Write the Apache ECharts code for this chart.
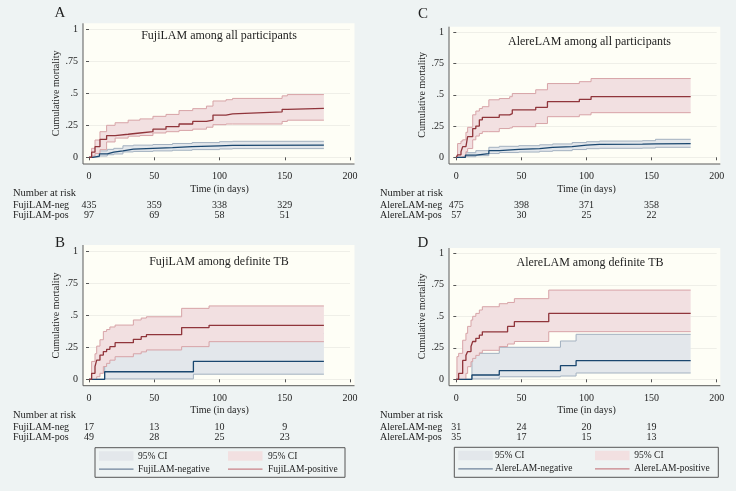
<!DOCTYPE html>
<html><head><meta charset="utf-8">
<script src="https://cdn.jsdelivr.net/npm/echarts@6/dist/echarts.min.js"></script>
<style>html,body{margin:0;padding:0;background:#eef3f3}#c{width:736px;height:491px}</style>
</head><body><div id="c"></div>
<script>
// ---------------- DATA ----------------
const xTicks = [0, 50, 100, 150, 200];
const yTickLabels = ['0', '.25', '.5', '.75', '1'];
const riskTimes = [0, 50, 100, 150];

const panelLetters = ['A', 'B', 'C', 'D'];
const panelTitles = ['FujiLAM among all participants', 'FujiLAM among definite TB',
                     'AlereLAM among all participants', 'AlereLAM among definite TB'];
const riskNegLabels = ['FujiLAM-neg', 'FujiLAM-neg', 'AlereLAM-neg', 'AlereLAM-neg'];
const riskPosLabels = ['FujiLAM-pos', 'FujiLAM-pos', 'AlereLAM-pos', 'AlereLAM-pos'];
const legendNegLabels = ['', 'FujiLAM-negative', '', 'AlereLAM-negative'];
const legendPosLabels = ['', 'FujiLAM-positive', '', 'AlereLAM-positive'];

// numbers at risk at 0, 50, 100, 150 days
const riskA_neg = [435, 359, 338, 329];
const riskA_pos = [97, 69, 58, 51];
const riskB_neg = [17, 13, 10, 9];
const riskB_pos = [49, 28, 25, 23];
const riskC_neg = [475, 398, 371, 358];
const riskC_pos = [57, 30, 25, 22];
const riskD_neg = [31, 24, 20, 19];
const riskD_pos = [35, 17, 15, 13];

// Panel A
const A_neg_t   = [0, 3, 8, 14, 19, 26, 34, 49, 64, 79, 100, 110, 180];
const A_neg_est = [0, 0.01, 0.026, 0.04, 0.05, 0.064, 0.07, 0.075, 0.083, 0.09, 0.093, 0.095, 0.095];
const A_neg_lo  = [0, 0.002, 0.01, 0.02, 0.026, 0.042, 0.046, 0.05, 0.055, 0.06, 0.065, 0.068, 0.068];
const A_neg_hi  = [0, 0.03, 0.05, 0.062, 0.07, 0.09, 0.095, 0.1, 0.108, 0.115, 0.122, 0.125, 0.125];
const A_pos_t   = [0, 2, 4.6, 8.4, 13.5, 20, 30, 39, 49, 59, 69, 79.5, 90, 95, 105, 110, 148, 152, 180];
const A_pos_est = [0, 0.04, 0.083, 0.14, 0.17, 0.18, 0.19, 0.2, 0.22, 0.24, 0.26, 0.28, 0.29, 0.33, 0.34, 0.355, 0.375, 0.383, 0.383];
const A_pos_lo  = [0, 0.01, 0.03, 0.06, 0.12, 0.15, 0.165, 0.17, 0.19, 0.2, 0.21, 0.22, 0.235, 0.255, 0.26, 0.26, 0.28, 0.29, 0.29];
const A_pos_hi  = [0, 0.07, 0.135, 0.2, 0.25, 0.27, 0.29, 0.3, 0.32, 0.335, 0.365, 0.38, 0.4, 0.44, 0.45, 0.46, 0.48, 0.49, 0.49];

// Panel B
const B_neg_t   = [0, 12, 80, 180];
const B_neg_est = [0, 0.059, 0.14, 0.14];
const B_neg_lo  = [0, 0.003, 0.04, 0.04];
const B_neg_hi  = [0, 0.27, 0.36, 0.36];
const B_pos_t   = [0, 2, 4.6, 5.9, 8.4, 11, 13.5, 16, 20, 34, 40, 44, 71, 92, 180];
const B_pos_est = [0, 0.047, 0.1, 0.15, 0.19, 0.217, 0.235, 0.256, 0.287, 0.313, 0.334, 0.35, 0.405, 0.423, 0.423];
const B_pos_lo  = [0, 0, 0, 0.02, 0.047, 0.1, 0.125, 0.15, 0.177, 0.2, 0.215, 0.23, 0.256, 0.295, 0.295];
const B_pos_hi  = [0, 0.14, 0.2, 0.26, 0.31, 0.375, 0.39, 0.41, 0.425, 0.465, 0.48, 0.49, 0.556, 0.575, 0.575];

// Panel C
const C_neg_t   = [0, 7, 15, 25, 33, 48, 64, 74, 89, 100, 110, 143, 153, 180];
const C_neg_est = [0, 0.018, 0.03, 0.053, 0.064, 0.069, 0.08, 0.085, 0.098, 0.104, 0.106, 0.107, 0.11, 0.11];
const C_neg_lo  = [0, 0.005, 0.013, 0.03, 0.038, 0.042, 0.048, 0.053, 0.062, 0.069, 0.072, 0.074, 0.08, 0.08];
const C_neg_hi  = [0, 0.037, 0.053, 0.08, 0.088, 0.093, 0.1, 0.107, 0.118, 0.125, 0.13, 0.133, 0.144, 0.144];
const C_pos_t   = [0, 1, 3.6, 4.9, 7.4, 8.7, 12.6, 15, 17.7, 20, 25, 33, 41, 43, 61, 70, 94.5, 103.5, 180];
const C_pos_est = [0, 0.02, 0.045, 0.085, 0.085, 0.165, 0.23, 0.25, 0.3, 0.32, 0.32, 0.34, 0.35, 0.38, 0.4, 0.445, 0.463, 0.485, 0.485];
const C_pos_lo  = [0, 0, 0, 0.005, 0.045, 0.07, 0.14, 0.17, 0.19, 0.205, 0.205, 0.23, 0.235, 0.245, 0.27, 0.325, 0.34, 0.357, 0.357];
const C_pos_hi  = [0, 0.11, 0.13, 0.14, 0.2, 0.24, 0.34, 0.37, 0.39, 0.405, 0.46, 0.47, 0.485, 0.51, 0.54, 0.59, 0.605, 0.63, 0.63];

// Panel D
const D_neg_t   = [0, 12, 33, 80, 92, 180];
const D_neg_est = [0, 0.034, 0.069, 0.108, 0.148, 0.148];
const D_neg_lo  = [0, 0.003, 0.02, 0.026, 0.05, 0.05];
const D_neg_hi  = [0, 0.206, 0.254, 0.304, 0.357, 0.357];
const D_pos_t   = [0, 0.5, 1.8, 4.9, 7.4, 8.7, 11.3, 12.6, 15, 17.7, 20, 33, 39.4, 44.6, 71, 180];
const D_pos_est = [0, 0, 0.047, 0.15, 0.19, 0.22, 0.26, 0.3, 0.325, 0.35, 0.377, 0.377, 0.42, 0.457, 0.523, 0.523];
const D_pos_lo  = [0, 0, 0, 0, 0.047, 0.1, 0.14, 0.166, 0.19, 0.21, 0.23, 0.26, 0.28, 0.3, 0.378, 0.378];
const D_pos_hi  = [0, 0.18, 0.206, 0.31, 0.365, 0.42, 0.47, 0.5, 0.523, 0.55, 0.576, 0.6, 0.61, 0.64, 0.708, 0.708];

// ---------------- LAYOUT / STYLE ----------------
const FONT = "'Liberation Serif','DejaVu Serif',serif";
const BG = '#eef3f3', PLOT_BG = '#fefef6';
const BLUE = '#1a476f', RED = '#90353b';
const BLUE_FILL = '#e3e7eb', RED_FILL = '#f2e0e1';
const BLUE_EDGE = '#a3b1c0', RED_EDGE = '#d7a3a7';
const TXT = '#1e1e1e';

const panels = [
  { grid: [89, 29.3, 261, 128], region: [83, 23.3, 271.5, 140.7], xOff: 6.7, yOff: 6, letter: [60, 13], title: [219, 36], riskX: 13, riskY: 193,
    curves: { neg: [A_neg_t, A_neg_est, A_neg_lo, A_neg_hi], pos: [A_pos_t, A_pos_est, A_pos_lo, A_pos_hi] }, risk: [riskA_neg, riskA_pos] },
  { grid: [89, 251.7, 261, 127.6], region: [83, 245, 271.5, 140.7], xOff: 6.4, yOff: 6, letter: [60, 243], title: [219, 262], riskX: 13, riskY: 415,
    curves: { neg: [B_neg_t, B_neg_est, B_neg_lo, B_neg_hi], pos: [B_pos_t, B_pos_est, B_pos_lo, B_pos_hi] }, risk: [riskB_neg, riskB_pos],
    legend: { box: [95, 447.7, 250, 29.6], c1: 99, t1: 138, c2: 228, t2: 268 } },
  { grid: [456.3, 32.3, 260.4, 125], region: [449, 26.7, 271.3, 137.3], xOff: 6.7, yOff: 7.3, letter: [423, 14], title: [589.5, 41.5], riskX: 380, riskY: 193,
    curves: { neg: [C_neg_t, C_neg_est, C_neg_lo, C_neg_hi], pos: [C_pos_t, C_pos_est, C_pos_lo, C_pos_hi] }, risk: [riskC_neg, riskC_pos] },
  { grid: [456.3, 253.3, 260.4, 126], region: [449, 248, 271.3, 137.7], xOff: 6.4, yOff: 7.3, letter: [423, 243], title: [590, 262.5], riskX: 380, riskY: 415,
    curves: { neg: [D_neg_t, D_neg_est, D_neg_lo, D_neg_hi], pos: [D_pos_t, D_pos_est, D_pos_lo, D_pos_hi] }, risk: [riskD_neg, riskD_pos],
    legend: { box: [454.3, 447.3, 264, 30], c1: 458.3, t1: 495, c2: 595, t2: 634.3 } }
];

function bandSeries(gi, t, lo, hi, fill, edge) {
  return {
    type: 'custom', xAxisIndex: gi, yAxisIndex: gi, silent: true, clip: false,
    data: t.map((x, i) => [x, lo[i], hi[i]]),
    encode: { x: 0, y: [1, 2] },
    renderItem: function (params, api) {
      if (params.dataIndex !== 0) return null;
      const up = [], dn = [];
      for (let i = 0; i < t.length; i++) {
        const x0 = api.coord([t[i], 0])[0];
        const x1 = i + 1 < t.length ? api.coord([t[i + 1], 0])[0] : x0;
        const yh = api.coord([t[i], hi[i]])[1];
        const yl = api.coord([t[i], lo[i]])[1];
        up.push([x0, yh], [x1, yh]);
        dn.push([x0, yl], [x1, yl]);
      }
      return {
        type: 'group',
        children: [
          { type: 'polygon', shape: { points: up.concat(dn.slice().reverse()) }, style: { fill: fill, stroke: null } },
          { type: 'polyline', shape: { points: up }, style: { stroke: edge, lineWidth: 1, fill: null } },
          { type: 'polyline', shape: { points: dn }, style: { stroke: edge, lineWidth: 1, fill: null } }
        ]
      };
    }
  };
}
function lineSeries(gi, t, est, color) {
  return {
    type: 'line', xAxisIndex: gi, yAxisIndex: gi, step: 'end', symbol: 'none', silent: true, clip: false,
    data: t.map((x, i) => [x, est[i]]),
    lineStyle: { color: color, width: 1.3 }
  };
}

const series = [];
panels.forEach((p, gi) => {
  const n = p.curves.neg, q = p.curves.pos;
  series.push(bandSeries(gi, n[0], n[2], n[3], BLUE_FILL, BLUE_EDGE));
  series.push(bandSeries(gi, q[0], q[2], q[3], RED_FILL, RED_EDGE));
  series.push(lineSeries(gi, n[0], n[1], BLUE));
  series.push(lineSeries(gi, q[0], q[1], RED));
});

const axisText = { fontFamily: FONT, fontSize: 10, color: TXT };

const option = {
  backgroundColor: BG,
  animation: false,
  grid: panels.map(p => ({ left: p.grid[0], top: p.grid[1], width: p.grid[2], height: p.grid[3], containLabel: false })),
  xAxis: panels.map((p, i) => ({
    type: 'value', gridIndex: i, min: xTicks[0], max: xTicks[xTicks.length - 1], interval: xTicks[1] - xTicks[0],
    offset: p.xOff, axisLine: { show: false },
    axisTick: { show: true, length: 3, lineStyle: { color: '#555' } },
    axisLabel: Object.assign({ margin: 7.5 }, axisText),
    splitLine: { show: false },
    name: 'Time (in days)', nameLocation: 'middle', nameGap: 20, nameTextStyle: axisText
  })),
  yAxis: panels.map((p, i) => ({
    type: 'value', gridIndex: i, min: 0, max: 1, interval: 0.25,
    offset: p.yOff, axisLine: { show: false },
    axisTick: { show: true, length: 3, lineStyle: { color: '#555' } },
    axisLabel: Object.assign({ margin: 5, formatter: v => yTickLabels[Math.round(v * 4)] }, axisText),
    splitLine: { show: true, lineStyle: { color: '#efefe8', width: 1 } },
    name: 'Cumulative mortality', nameLocation: 'middle', nameGap: 16, nameRotate: 90, nameTextStyle: axisText
  })),
  series: series
};

const chart = echarts.init(document.getElementById('c'), null, { renderer: 'canvas' });
chart.setOption(option);

// ---------------- GRAPHICS: plot regions, axis lines, titles, risk tables, legends ----------------
const g = [];
panels.forEach((p, gi) => {
  const r = p.region;
  g.push({ type: 'rect', shape: { x: r[0], y: r[1], width: r[2], height: r[3] }, style: { fill: PLOT_BG }, z: -10, silent: true });
  g.push({ type: 'line', shape: { x1: r[0], y1: r[1], x2: r[0], y2: r[1] + r[3] }, style: { stroke: '#5a5a5a', lineWidth: 1 }, z: 10, silent: true });
  g.push({ type: 'line', shape: { x1: r[0], y1: r[1] + r[3], x2: r[0] + r[2], y2: r[1] + r[3] }, style: { stroke: '#5a5a5a', lineWidth: 1 }, z: 10, silent: true });
  g.push({ type: 'text', x: p.letter[0], y: p.letter[1], style: { text: panelLetters[gi], font: '15px ' + FONT, fill: TXT, align: 'center', verticalAlign: 'middle' }, z: 10 });
  g.push({ type: 'text', x: p.title[0], y: p.title[1], style: { text: panelTitles[gi], font: '12px ' + FONT, fill: TXT, align: 'center', verticalAlign: 'middle' }, z: 10 });
  // risk table
  g.push({ type: 'text', x: p.riskX, y: p.riskY, style: { text: 'Number at risk', font: '10.5px ' + FONT, fill: TXT, align: 'left', verticalAlign: 'middle' }, z: 10 });
  const rows = [riskNegLabels[gi], riskPosLabels[gi]];
  const rowsY = [p.riskY + 12, p.riskY + 22];
  rows.forEach((lab, k) => {
    g.push({ type: 'text', x: p.riskX, y: rowsY[k], style: { text: lab, font: '10px ' + FONT, fill: TXT, align: 'left', verticalAlign: 'middle' }, z: 10 });
    riskTimes.forEach((t, j) => {
      const px = chart.convertToPixel({ xAxisIndex: gi }, t);
      g.push({ type: 'text', x: px, y: rowsY[k], style: { text: String(p.risk[k][j]), font: '10px ' + FONT, fill: TXT, align: 'center', verticalAlign: 'middle' }, z: 10 });
    });
  });
  // legend
  if (p.legend) {
    const L = p.legend, b = L.box;
    g.push({ type: 'rect', shape: { x: b[0], y: b[1], width: b[2], height: b[3] }, style: { fill: BG, stroke: '#555', lineWidth: 1 }, z: 9, silent: true });
    const y1 = b[1] + 3.5, y2 = b[1] + 21.5;
    g.push({ type: 'rect', shape: { x: L.c1, y: y1, width: 34.5, height: 9.5 }, style: { fill: BLUE_FILL }, z: 10 });
    g.push({ type: 'rect', shape: { x: L.c2, y: y1, width: 34.5, height: 9.5 }, style: { fill: RED_FILL }, z: 10 });
    g.push({ type: 'line', shape: { x1: L.c1, y1: y2, x2: L.c1 + 34.5, y2: y2 }, style: { stroke: '#6f839b', lineWidth: 1.3 }, z: 10 });
    g.push({ type: 'line', shape: { x1: L.c2, y1: y2, x2: L.c2 + 34.5, y2: y2 }, style: { stroke: '#c98288', lineWidth: 1.3 }, z: 10 });
    const lt = (x, y, s) => g.push({ type: 'text', x: x, y: y, style: { text: s, font: '9.5px ' + FONT, fill: TXT, align: 'left', verticalAlign: 'middle' }, z: 10 });
    lt(L.t1, y1 + 5, '95% CI');
    lt(L.t2, y1 + 5, '95% CI');
    lt(L.t1, y2, legendNegLabels[gi]);
    lt(L.t2, y2, legendPosLabels[gi]);
  }
});
chart.setOption({ graphic: g });
</script>
</body></html>
